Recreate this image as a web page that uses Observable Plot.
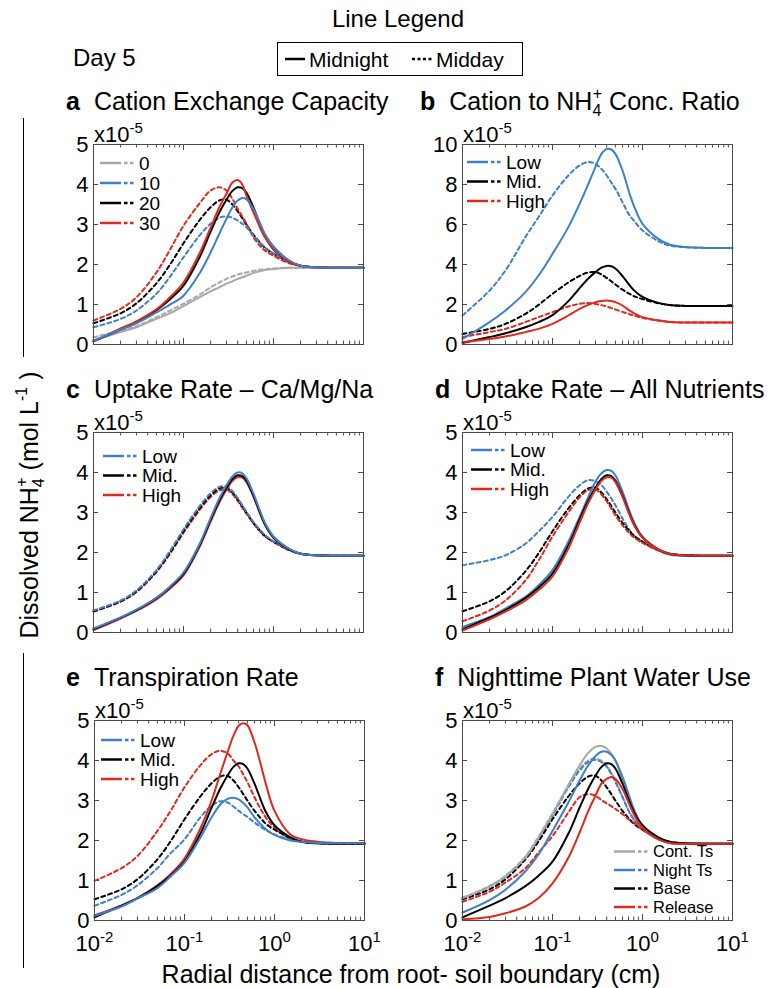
<!DOCTYPE html>
<html>
<head>
<meta charset="utf-8">
<script src="https://cdn.jsdelivr.net/npm/d3@7"></script>
<script src="https://cdn.jsdelivr.net/npm/@observablehq/plot@0.6"></script>
<style>
html,body{margin:0;padding:0;background:#fff;}
#root{position:relative;width:772px;height:988px;overflow:hidden;background:#fff;font-family:"Liberation Sans",Arial,Helvetica,sans-serif;}
#overlay{position:absolute;left:0;top:0;pointer-events:none;}
</style>
</head>
<body>
<div id="root"></div>
<script>
// ---------------- data ----------------
const xs = [0.01,0.02,0.03,0.05,0.07,0.1,0.15,0.2,0.25,0.3,0.35,0.4,0.45,0.5,0.6,0.7,0.8,1,1.5,2,3,5,10];
const xMajor = [0.01, 0.1, 1, 10];
const xMinor = [0.02,0.03,0.04,0.05,0.06,0.07,0.08,0.09,0.2,0.3,0.4,0.5,0.6,0.7,0.8,0.9,2,3,4,5,6,7,8,9];
const yTicks5 = [0,1,2,3,4,5];
const yTicks10 = [0,2,4,6,8,10];

// base case (Mid / 20 / Base)
const baseSolid  = [0.08,0.37,0.56,0.86,1.12,1.47,2.17,2.82,3.30,3.62,3.84,3.93,3.91,3.80,3.42,3.03,2.72,2.38,2.08,1.97,1.93,1.92,1.92];
const baseDashed = [0.53,0.78,1.03,1.53,1.98,2.53,3.10,3.43,3.60,3.62,3.50,3.33,3.16,3.00,2.74,2.56,2.42,2.27,2.06,1.97,1.93,1.92,1.92];

// a  Cation Exchange Capacity
const aCec0Solid   = [0.10,0.31,0.43,0.64,0.78,0.96,1.18,1.33,1.43,1.52,1.58,1.64,1.68,1.72,1.79,1.83,1.86,1.89,1.92,1.92,1.92,1.92,1.92];
const aCec0Dashed  = [0.18,0.35,0.46,0.68,0.84,1.02,1.24,1.43,1.55,1.64,1.70,1.75,1.78,1.80,1.84,1.87,1.88,1.90,1.92,1.92,1.92,1.92,1.92];
const aCec10Solid  = [0.10,0.37,0.53,0.80,0.99,1.22,1.77,2.30,2.77,3.14,3.43,3.60,3.66,3.63,3.39,3.06,2.77,2.45,2.10,1.97,1.93,1.92,1.92];
const aCec10Dashed = [0.43,0.64,0.85,1.27,1.68,2.18,2.72,3.02,3.17,3.20,3.17,3.10,3.02,2.93,2.72,2.56,2.43,2.28,2.07,1.97,1.93,1.92,1.92];
const aCec30Solid  = [0.08,0.40,0.58,0.88,1.17,1.55,2.27,2.92,3.43,3.77,4.05,4.11,4.00,3.72,3.30,2.95,2.68,2.39,2.08,1.97,1.93,1.92,1.92];
const aCec30Dashed = [0.60,0.89,1.18,1.80,2.35,2.97,3.52,3.85,3.93,3.85,3.64,3.39,3.20,3.02,2.68,2.48,2.35,2.22,2.03,1.97,1.93,1.92,1.92];

// b  Cation to NH4+ Conc. Ratio
const bLowSolid   = [0.28,1.12,1.70,2.62,3.45,4.53,5.87,7.03,8.03,8.87,9.53,9.78,9.75,9.53,8.70,7.70,6.95,6.03,5.28,5.00,4.87,4.83,4.83];
const bLowDashed  = [1.45,2.70,3.70,5.37,6.37,7.45,8.45,8.95,9.12,9.03,8.78,8.45,8.10,7.78,7.12,6.53,6.20,5.70,5.17,4.95,4.87,4.83,4.83];
const bHighSolid  = [0.12,0.28,0.40,0.62,0.78,1.03,1.45,1.78,1.98,2.12,2.18,2.20,2.18,2.12,1.95,1.73,1.57,1.37,1.20,1.13,1.10,1.10,1.10];
const bHighDashed = [0.37,0.62,0.78,1.12,1.37,1.62,1.90,2.03,2.07,2.03,1.97,1.90,1.82,1.75,1.63,1.53,1.45,1.33,1.20,1.13,1.10,1.10,1.10];

// c  Uptake Rate – Ca/Mg/Na
const cLowSolid   = [0.10,0.38,0.57,0.87,1.14,1.50,2.20,2.86,3.35,3.68,3.90,4.00,3.98,3.86,3.47,3.07,2.75,2.40,2.09,1.97,1.93,1.92,1.92];
const cHighSolid  = [0.06,0.35,0.54,0.83,1.09,1.43,2.13,2.77,3.25,3.57,3.79,3.88,3.87,3.76,3.39,3.00,2.70,2.37,2.07,1.97,1.93,1.92,1.92];
const cLowDashed  = [0.55,0.80,1.05,1.56,2.02,2.58,3.15,3.48,3.64,3.65,3.53,3.36,3.18,3.02,2.76,2.58,2.44,2.28,2.07,1.97,1.93,1.92,1.92];
const cHighDashed = [0.52,0.77,1.01,1.51,1.95,2.49,3.05,3.39,3.55,3.57,3.46,3.29,3.12,2.97,2.72,2.54,2.41,2.26,2.06,1.97,1.93,1.92,1.92];

// d  Uptake Rate – All Nutrients
const dLowSolid   = [0.14,0.39,0.60,0.89,1.18,1.56,2.27,2.89,3.39,3.77,3.98,4.06,4.04,3.93,3.52,3.10,2.77,2.39,2.06,1.95,1.92,1.92,1.92];
const dHighSolid  = [0.05,0.33,0.52,0.80,1.06,1.40,2.10,2.75,3.24,3.57,3.79,3.88,3.87,3.76,3.39,3.00,2.70,2.37,2.07,1.97,1.93,1.92,1.92];
const dLowDashed  = [1.68,1.81,1.93,2.22,2.52,2.89,3.39,3.68,3.81,3.78,3.68,3.52,3.35,3.18,2.85,2.60,2.43,2.27,2.06,1.95,1.92,1.92,1.92];
const dHighDashed = [0.28,0.55,0.80,1.30,1.80,2.40,3.00,3.38,3.56,3.58,3.45,3.28,3.10,2.93,2.68,2.50,2.38,2.24,2.05,1.96,1.93,1.92,1.92];

// e  Transpiration Rate
const eLowSolid   = [0.12,0.35,0.55,0.81,1.10,1.44,2.07,2.58,2.90,3.04,3.07,3.03,2.94,2.83,2.58,2.41,2.28,2.14,2.00,1.97,1.94,1.93,1.93];
const eLowDashed  = [0.37,0.64,0.88,1.31,1.68,2.03,2.58,2.87,2.98,2.95,2.85,2.74,2.66,2.59,2.45,2.34,2.26,2.15,2.02,1.97,1.94,1.93,1.93];
const eHighSolid  = [0.13,0.38,0.56,0.88,1.16,1.55,2.30,3.00,3.67,4.20,4.62,4.87,4.93,4.88,4.45,3.92,3.42,2.74,2.15,2.03,1.97,1.94,1.94];
const eHighDashed = [0.99,1.31,1.61,2.24,2.74,3.33,3.88,4.16,4.24,4.18,4.00,3.85,3.65,3.46,3.08,2.79,2.58,2.32,2.05,1.97,1.94,1.93,1.93];

// f  Nighttime Plant Water Use
const fContSolid     = [0.56,0.85,1.10,1.57,2.07,2.66,3.38,3.88,4.19,4.34,4.36,4.30,4.17,4.00,3.50,3.08,2.70,2.32,2.03,1.94,1.92,1.92,1.92];
const fContDashed    = [0.57,0.86,1.12,1.60,2.10,2.68,3.38,3.80,4.00,4.05,4.00,3.88,3.70,3.50,3.10,2.76,2.54,2.28,2.03,1.94,1.92,1.92,1.92];
const fNightSolid    = [0.20,0.51,0.77,1.23,1.65,2.24,2.95,3.50,3.88,4.11,4.22,4.22,4.14,4.00,3.59,3.16,2.79,2.37,2.05,1.95,1.92,1.92,1.92];
const fNightDashed   = [0.56,0.85,1.10,1.57,2.05,2.62,3.33,3.75,3.96,4.02,3.96,3.84,3.66,3.46,3.08,2.74,2.53,2.28,2.03,1.94,1.92,1.92,1.92];
const fReleaseSolid  = [0.03,0.09,0.18,0.35,0.56,0.93,1.57,2.20,2.74,3.12,3.42,3.54,3.59,3.54,3.29,2.95,2.66,2.32,2.03,1.94,1.92,1.92,1.92];
const fReleaseDashed = [0.47,0.72,0.95,1.31,1.70,2.11,2.70,3.08,3.16,3.12,3.01,2.93,2.86,2.79,2.66,2.53,2.45,2.28,2.05,1.94,1.92,1.92,1.92];

// ---------------- styling ----------------
const GRAY = "#a8a8a8", BLUE = "#3d80c7", BLACK = "#000000", RED = "#e2271d";
const AXC = "#4a4a4a";
const FONT = '"Liberation Sans", Arial, Helvetica, sans-serif';
const DASH = "4,3.2";

const panels = [
  {letter:"a", title:"Cation Exchange Capacity", lx:66, left:93, top:144, yMax:5, yTicks:yTicks5, showX:false,
   dashed:[[aCec0Dashed,GRAY],[baseDashed,BLACK],[aCec30Dashed,RED],[aCec10Dashed,BLUE]],
   solid:[[aCec0Solid,GRAY],[baseSolid,BLACK],[aCec30Solid,RED],[aCec10Solid,BLUE]],
   legend:{x:100, y:163, step:20, fs:19, items:[["0",GRAY],["10",BLUE],["20",BLACK],["30",RED]]}},
  {letter:"b", titleNH:true, lx:420, left:462, top:144, yMax:10, yTicks:yTicks10, showX:false,
   dashed:[[baseDashed,BLACK],[bHighDashed,RED],[bLowDashed,BLUE]],
   solid:[[baseSolid,BLACK],[bHighSolid,RED],[bLowSolid,BLUE]],
   legend:{x:467, y:162, step:19.5, fs:19, items:[["Low",BLUE],["Mid.",BLACK],["High",RED]]}},
  {letter:"c", title:"Uptake Rate \u2013 Ca/Mg/Na", lx:66, left:93, top:432, yMax:5, yTicks:yTicks5, showX:false,
   dashed:[[cHighDashed,RED],[baseDashed,BLACK],[cLowDashed,BLUE]],
   solid:[[cHighSolid,RED],[baseSolid,BLACK],[cLowSolid,BLUE]],
   legend:{x:103, y:456, step:19.5, fs:19, items:[["Low",BLUE],["Mid.",BLACK],["High",RED]]}},
  {letter:"d", title:"Uptake Rate \u2013 All Nutrients", lx:435, left:462, top:432, yMax:5, yTicks:yTicks5, showX:false,
   dashed:[[dLowDashed,BLUE],[baseDashed,BLACK],[dHighDashed,RED]],
   solid:[[dLowSolid,BLUE],[baseSolid,BLACK],[dHighSolid,RED]],
   legend:{x:471, y:450, step:19.5, fs:19, items:[["Low",BLUE],["Mid.",BLACK],["High",RED]]}},
  {letter:"e", title:"Transpiration Rate", lx:66, left:94, top:720, yMax:5, yTicks:yTicks5, showX:true,
   dashed:[[eHighDashed,RED],[baseDashed,BLACK],[eLowDashed,BLUE]],
   solid:[[eHighSolid,RED],[baseSolid,BLACK],[eLowSolid,BLUE]],
   legend:{x:101, y:740, step:19.5, fs:19, items:[["Low",BLUE],["Mid.",BLACK],["High",RED]]}},
  {letter:"f", title:"Nighttime Plant Water Use", lx:435, left:462, top:720, yMax:5, yTicks:yTicks5, showX:true,
   dashed:[[fContDashed,GRAY],[fNightDashed,BLUE],[baseDashed,BLACK],[fReleaseDashed,RED]],
   solid:[[fContSolid,GRAY],[fNightSolid,BLUE],[baseSolid,BLACK],[fReleaseSolid,RED]],
   legend:{x:614, y:851.5, step:18.5, fs:16.5, items:[["Cont. Ts",GRAY],["Night Ts",BLUE],["Base",BLACK],["Release",RED]]}}
];

const root = document.getElementById("root");
const W = 270, H = 200, mL = 60, mR = 14, mT = 14, mB = 56;
const rows = vals => xs.map((x, i) => ({x, y: vals[i]}));

for (const p of panels) {
  const marks = [];
  // inward ticks on all four sides
  marks.push(Plot.tickX(xMinor, {x: d => d, insetTop: H - 3.5, stroke: AXC}));
  marks.push(Plot.tickX(xMinor, {x: d => d, insetBottom: H - 3.5, stroke: AXC}));
  marks.push(Plot.tickX(xMajor, {x: d => d, insetTop: H - 6, stroke: AXC}));
  marks.push(Plot.tickX(xMajor, {x: d => d, insetBottom: H - 6, stroke: AXC}));
  marks.push(Plot.tickY(p.yTicks, {y: d => d, insetRight: W - 5, stroke: AXC}));
  marks.push(Plot.tickY(p.yTicks, {y: d => d, insetLeft: W - 5, stroke: AXC}));
  // tick labels
  marks.push(Plot.axisY(p.yTicks, {anchor:"left", tickSize:0, tickPadding:5, label:null, fontSize:22, fill:"#000"}));
  if (p.showX) marks.push(Plot.axisX(xMajor, {anchor:"bottom", tickSize:0, tickPadding:15, label:null, fontSize:22, fill:"#000",
      tickFormat: d => "10^" + Math.round(Math.log10(d))}));
  for (const [vals, c] of p.dashed)
    marks.push(Plot.line(rows(vals), {x:"x", y:"y", stroke:c, strokeWidth:2, strokeDasharray:DASH, curve:"catmull-rom"}));
  for (const [vals, c] of p.solid)
    marks.push(Plot.line(rows(vals), {x:"x", y:"y", stroke:c, strokeWidth:2, curve:"catmull-rom"}));
  marks.push(Plot.frame({stroke:AXC, strokeWidth:1}));

  const svg = Plot.plot({
    width: W + mL + mR, height: H + mT + mB,
    marginLeft: mL, marginRight: mR, marginTop: mT, marginBottom: mB,
    x: {type:"log", domain:[0.01, 10], axis: null},
    y: {domain:[0, p.yMax], axis: null},
    style: {fontFamily: FONT, fontSize: "22px", color: "#000", background: "transparent", overflow: "visible"},
    marks
  });
  svg.style.position = "absolute";
  svg.style.left = (p.left - mL) + "px";
  svg.style.top = (p.top - mT) + "px";
  // superscript exponents on log tick labels
  svg.querySelectorAll('g[aria-label="x-axis tick label"] text').forEach(t => {
    const s = t.textContent;
    if (!s.includes("^")) return;
    const [b, e] = s.split("^");
    t.textContent = "";
    const t1 = document.createElementNS("http://www.w3.org/2000/svg", "tspan");
    t1.textContent = b;
    const t2 = document.createElementNS("http://www.w3.org/2000/svg", "tspan");
    t2.setAttribute("dy", "-9");
    t2.setAttribute("font-size", "15");
    t2.textContent = e;
    t.appendChild(t1); t.appendChild(t2);
  });
  root.appendChild(svg);
}

// ---------------- overlay: titles, legends, axis labels ----------------
const ov = d3.select(root).append("svg").attr("id", "overlay")
  .attr("width", 772).attr("height", 988)
  .style("font-family", FONT);

// Line legend
ov.append("text").attr("x", 398).attr("y", 27).attr("text-anchor", "middle").attr("font-size", 24).text("Line Legend");
ov.append("rect").attr("x", 277.5).attr("y", 42.5).attr("width", 245).attr("height", 33).attr("fill", "none").attr("stroke", "#000");
ov.append("line").attr("x1", 285).attr("x2", 305).attr("y1", 59).attr("y2", 59).attr("stroke", "#000").attr("stroke-width", 2.5);
ov.append("text").attr("x", 309).attr("y", 66.5).attr("font-size", 21).text("Midnight");
ov.append("line").attr("x1", 412).attr("x2", 433).attr("y1", 59).attr("y2", 59).attr("stroke", "#000").attr("stroke-width", 2.5).attr("stroke-dasharray", "3,2.5");
ov.append("text").attr("x", 436).attr("y", 66.5).attr("font-size", 21).text("Midday");
ov.append("text").attr("x", 73).attr("y", 65.6).attr("font-size", 24).text("Day 5");

for (const p of panels) {
  const by = p.top - 34.5;
  const t = ov.append("text").attr("x", p.lx).attr("y", by).attr("font-size", 25);
  t.append("tspan").attr("font-weight", "bold").text(p.letter);
  if (p.titleNH) {
    t.append("tspan").attr("dx", 14).text("Cation to NH");
    t.append("tspan").attr("font-size", 16).attr("dy", 6).text("4");
    t.append("tspan").attr("font-size", 16).attr("dx", -8.5).attr("dy", -17).text("+");
    t.append("tspan").attr("dy", 11).text(" Conc. Ratio");
  } else {
    t.append("tspan").attr("dx", 14).text(p.title);
  }
  // exponent label
  const e = ov.append("text").attr("x", p.left + 1).attr("y", p.top - 2.5).attr("font-size", 22);
  e.append("tspan").text("x10");
  e.append("tspan").attr("font-size", 15).attr("dy", -9).text("-5");
  // inner legend
  const L = p.legend;
  L.items.forEach(([label, c], i) => {
    const y = L.y + i * L.step;
    ov.append("line").attr("x1", L.x).attr("x2", L.x + 21).attr("y1", y).attr("y2", y).attr("stroke", c).attr("stroke-width", 2.5);
    ov.append("line").attr("x1", L.x + 24).attr("x2", L.x + 36).attr("y1", y).attr("y2", y).attr("stroke", c).attr("stroke-width", 2.5).attr("stroke-dasharray", "3.5,2.5");
    ov.append("text").attr("x", L.x + 39).attr("y", y + L.fs * 0.358).attr("font-size", L.fs).text(label);
  });
}

// y axis label with bracket lines
ov.append("line").attr("x1", 23.5).attr("x2", 23.5).attr("y1", 118).attr("y2", 357).attr("stroke", "#000");
ov.append("line").attr("x1", 23.5).attr("x2", 23.5).attr("y1", 653).attr("y2", 968).attr("stroke", "#000");
const yl = ov.append("text").attr("transform", "translate(38,505) rotate(-90)").attr("text-anchor", "middle").attr("font-size", 25);
yl.append("tspan").text("Dissolved NH");
yl.append("tspan").attr("font-size", 16).attr("dy", 6).text("4");
yl.append("tspan").attr("font-size", 16).attr("dx", -8.5).attr("dy", -17).text("+");
yl.append("tspan").attr("dy", 11).text(" (mol L");
yl.append("tspan").attr("font-size", 16).attr("dy", -11).text("-1");
yl.append("tspan").attr("dy", 11).text(" )");

// x axis label
ov.append("text").attr("x", 411).attr("y", 983).attr("text-anchor", "middle").attr("font-size", 25)
  .text("Radial distance from root- soil boundary (cm)");
</script>
</body>
</html>
